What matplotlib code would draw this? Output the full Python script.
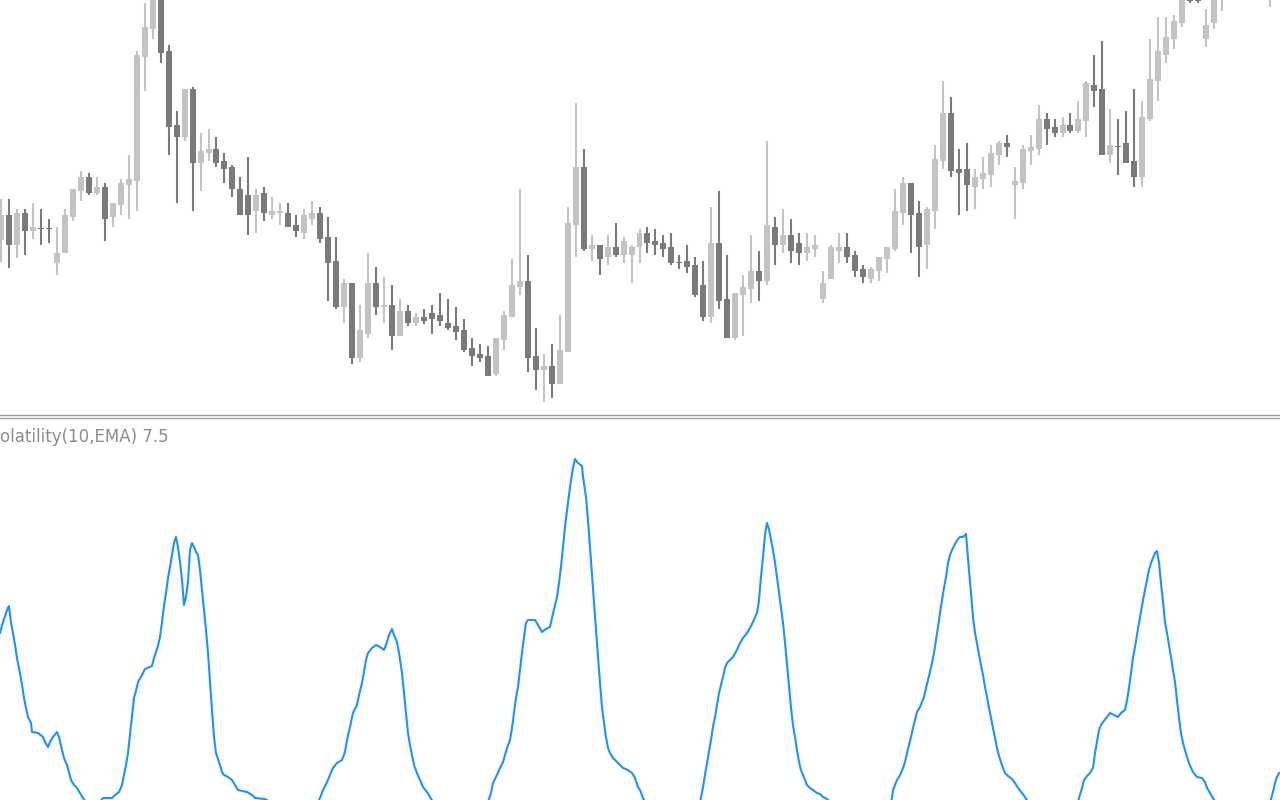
import matplotlib.pyplot as plt

# candle data (price units, index = bar number)
opens = [170, 195, 165, 197, 179, 182, 182, 147, 157, 193,
         219, 233, 217, 223, 193, 205, 225, 229, 353, 381,
         430, 359, 285, 273, 321, 247, 257, 261, 249, 243,
         221, 215, 199, 217, 195, 197, 197, 185, 177, 191,
         197, 173, 149, 103, 127, 52, 76, 127, 103, 105,
         74, 99, 87, 93, 97, 95, 87, 84, 80, 62,
         56, 54, 36, 70, 93, 123, 129, 54, 40, 44,
         26, 58, 185, 243, 161, 165, 153, 163, 155, 155,
         163, 177, 169, 167, 163, 148, 149, 145, 125, 93,
         167, 111, 72, 115, 121, 139, 129, 183, 165, 175,
         167, 157, 161, 111, 131, 159, 163, 155, 141, 131,
         139, 151, 161, 197, 227, 197, 165, 199, 249, 297,
         241, 241, 223, 231, 235, 255, 267, 225, 227, 259,
         261, 291, 283, 277, 285, 279, 289, 325, 321, 255,
         264, 267, 249, 233, 291, 329, 355, 371, 387, 430,
         410, 371, 387, 415, 440, 455, 470, 460, 475, 415]

closes = [195, 165, 197, 179, 183, 181, 181, 157, 195, 221,
          233, 217, 223, 191, 207, 227, 231, 355, 383, 425,
          357, 283, 273, 321, 247, 259, 261, 247, 241, 221,
          195, 195, 215, 197, 199, 199, 183, 179, 195, 197,
          171, 147, 103, 127, 52, 80, 127, 103, 105, 74,
          99, 87, 93, 89, 91, 89, 82, 78, 60, 54,
          52, 34, 72, 95, 125, 129, 52, 40, 44, 26,
          60, 187, 243, 161, 165, 151, 163, 155, 169, 163,
          177, 167, 165, 161, 147, 147, 143, 115, 93, 167,
          109, 72, 117, 123, 139, 129, 185, 165, 175, 159,
          157, 163, 165, 127, 163, 163, 153, 139, 133, 141,
          153, 163, 199, 227, 195, 163, 201, 251, 297, 239,
          237, 225, 233, 237, 257, 267, 263, 229, 261, 263,
          291, 281, 277, 285, 279, 291, 327, 319, 255, 265,
          263, 247, 233, 293, 331, 359, 373, 389, 420, 409,
          409, 385, 420, 440, 455, 470, 460, 475, 490, 430]

highs = [211, 211, 201, 201, 207, 201, 191, 183, 201, 221,
         239, 237, 233, 227, 207, 231, 255, 359, 407, 440,
         445, 365, 299, 321, 323, 277, 281, 273, 257, 245,
         233, 253, 221, 223, 213, 207, 207, 195, 201, 209,
         203, 193, 173, 131, 127, 105, 157, 143, 133, 125,
         111, 105, 97, 101, 105, 117, 111, 103, 91, 72,
         66, 64, 72, 99, 151, 221, 155, 82, 56, 66,
         95, 203, 307, 261, 175, 165, 175, 187, 173, 165,
         181, 183, 181, 175, 177, 155, 165, 153, 149, 203,
         219, 155, 117, 135, 175, 159, 269, 193, 201, 191,
         177, 177, 175, 139, 165, 177, 177, 159, 145, 143,
         153, 163, 221, 233, 227, 209, 203, 265, 329, 313,
         261, 267, 241, 253, 265, 269, 275, 243, 265, 275,
         305, 297, 291, 293, 297, 309, 329, 355, 369, 301,
         291, 299, 321, 309, 371, 393, 393, 395, 430, 440,
         418, 401, 430, 450, 465, 480, 485, 490, 500, 440]

lows = [148, 142, 152, 155, 171, 165, 167, 135, 157, 189,
        209, 215, 215, 169, 183, 195, 191, 199, 319, 371,
        347, 255, 207, 269, 199, 219, 249, 243, 227, 213,
        195, 175, 177, 189, 191, 185, 183, 173, 171, 185,
        167, 109, 101, 87, 46, 48, 72, 95, 87, 60,
        74, 84, 84, 86, 76, 84, 80, 70, 58, 44,
        48, 34, 34, 60, 93, 115, 38, 20, 8, 12,
        26, 58, 153, 159, 149, 135, 145, 153, 147, 127,
        147, 157, 155, 153, 145, 141, 137, 113, 89, 87,
        101, 72, 70, 74, 107, 109, 125, 145, 157, 147,
        145, 149, 153, 107, 131, 147, 147, 133, 127, 127,
        129, 137, 159, 185, 157, 133, 141, 181, 241, 233,
        195, 199, 201, 221, 223, 245, 253, 191, 221, 245,
        255, 265, 273, 273, 277, 277, 273, 303, 255, 247,
        235, 247, 223, 223, 289, 309, 347, 361, 383, 407,
        407, 363, 381, 399, 425, 440, 450, 445, 460, 403]

# volatility indicator (time in bars, value)
vol_t = [0.0, 0.38, 0.88, 1.12, 1.38, 1.62, 1.88, 2.12, 2.5, 2.75,
         3.0, 3.25, 3.5, 3.88, 4.0, 4.75, 5.38, 5.62, 6.0, 6.25,
         6.62, 7.12, 7.38, 7.75, 8.0, 8.38, 8.62, 8.88, 9.25, 9.62,
         10.0, 10.38, 10.75, 11.62, 12.5, 12.88, 14.0, 14.38, 14.88, 15.25,
         15.5, 15.75, 16.0, 16.25, 16.5, 16.75, 17.12, 17.25, 17.75, 18.12,
         19.0, 19.25, 19.5, 19.75, 20.0, 20.25, 20.5, 20.75, 21.0, 21.25,
         21.5, 21.75, 22.0, 22.25, 22.5, 22.75, 23.0, 23.25, 23.5, 23.75,
         24.0, 24.25, 24.5, 24.75, 25.0, 25.25, 25.5, 25.75, 26.0, 26.25,
         26.5, 26.75, 27.0, 27.25, 27.5, 27.75, 28.0, 28.5, 29.0, 29.38,
         29.75, 30.88, 31.5, 31.88, 33.12, 33.75, 36.88, 39.75, 40.0, 40.38,
         40.88, 41.25, 41.62, 42.12, 42.75, 43.12, 43.38, 43.75, 44.12, 44.62,
         44.88, 45.25, 45.5, 45.75, 46.0, 46.5, 47.0, 47.5, 48.0, 48.38,
         48.62, 49.0, 49.25, 49.62, 49.88, 50.25, 50.5, 50.75, 51.0, 51.25,
         51.5, 51.75, 52.12, 52.5, 52.88, 53.38, 53.75, 54.12, 57.5, 61.0,
         61.38, 61.62, 62.12, 62.5, 62.88, 63.12, 63.38, 63.75, 64.0, 64.25,
         64.5, 64.75, 65.0, 65.25, 65.5, 65.75, 66.0, 66.88, 67.25, 67.75,
         68.25, 68.75, 69.0, 69.38, 69.62, 69.88, 70.12, 70.38, 70.62, 70.88,
         71.12, 71.38, 71.62, 71.88, 72.25, 72.75, 72.88, 73.25, 73.5, 73.75,
         74.0, 74.25, 74.5, 74.75, 75.0, 75.25, 75.5, 75.75, 76.0, 76.25,
         76.62, 77.12, 77.5, 77.88, 78.5, 79.0, 79.38, 79.75, 80.0, 80.38,
         80.62, 84.0, 87.5, 87.62, 87.88, 88.12, 88.38, 88.62, 88.88, 89.12,
         89.38, 89.62, 89.88, 90.12, 90.38, 90.62, 90.88, 91.25, 91.62, 92.12,
         92.5, 92.88, 93.38, 93.75, 94.12, 94.62, 94.88, 95.12, 95.38, 95.62,
         95.88, 96.12, 96.38, 96.62, 96.88, 97.12, 97.38, 97.62, 97.88, 98.12,
         98.38, 98.62, 98.88, 99.12, 99.38, 99.62, 99.88, 100.12, 100.38, 100.62,
         100.88, 101.25, 101.62, 102.12, 102.5, 102.88, 103.38, 103.75, 107.5, 111.38,
         111.5, 111.62, 111.88, 112.12, 112.38, 112.62, 112.88, 113.12, 113.38, 113.62,
         113.88, 114.12, 114.38, 114.62, 115.0, 115.25, 115.5, 115.75, 116.0, 116.25,
         116.5, 116.75, 117.0, 117.25, 117.5, 117.75, 118.0, 118.25, 118.5, 118.75,
         119.0, 119.25, 119.5, 119.75, 120.0, 120.38, 120.75, 120.88, 121.12, 121.38,
         121.62, 121.88, 122.12, 122.38, 122.62, 122.88, 123.12, 123.38, 123.62, 123.88,
         124.12, 124.38, 124.62, 124.88, 125.12, 125.38, 125.62, 126.0, 126.5, 126.88,
         127.25, 127.75, 128.12, 128.5, 131.62, 134.75, 134.88, 135.25, 135.5, 135.88,
         136.25, 136.62, 136.88, 137.12, 137.38, 137.62, 137.88, 138.38, 138.75, 139.25,
         139.75, 140.12, 140.62, 140.88, 141.12, 141.38, 141.62, 141.88, 142.12, 142.38,
         142.62, 142.88, 143.12, 143.38, 143.62, 143.88, 144.12, 144.38, 144.62, 144.88,
         145.12, 145.38, 145.62, 145.88, 146.12, 146.38, 146.62, 146.88, 147.12, 147.38,
         147.62, 147.88, 148.12, 148.38, 148.62, 148.88, 149.12, 149.62, 150.25, 150.62,
         150.88, 151.25, 151.62, 151.88, 155.25, 158.75, 158.88, 159.12, 159.38, 159.62,
         159.88]

vol_v = [177, 188, 200, 204, 187, 177, 165, 152, 137, 125,
         112, 102, 93, 87, 78, 77, 73, 68, 63, 68,
         73, 78, 73, 60, 52, 45, 38, 30, 25, 22,
         17, 12, 8, 4, 8, 12, 12, 15, 18, 25,
         35, 45, 57, 75, 93, 112, 123, 128, 135, 141,
         144, 152, 158, 164, 173, 188, 204, 217, 232, 243,
         255, 267, 273, 263, 248, 230, 205, 213, 228, 260,
         267, 263, 258, 255, 240, 220, 200, 180, 157, 128,
         100, 73, 57, 51, 45, 38, 35, 33, 30, 25,
         20, 18, 15, 12, 11, 8, 2, 8, 12, 20,
         28, 35, 42, 47, 50, 58, 70, 83, 97, 105,
         115, 127, 138, 150, 157, 162, 165, 163, 160, 168,
         175, 181, 175, 168, 157, 137, 117, 97, 77, 65,
         55, 45, 37, 30, 23, 18, 13, 8, 0, 8,
         17, 27, 35, 42, 48, 55, 62, 70, 82, 97,
         112, 123, 140, 157, 173, 187, 190, 190, 185, 178,
         181, 183, 192, 205, 213, 227, 243, 263, 283, 300,
         315, 330, 342, 351, 347, 344, 333, 313, 290, 263,
         237, 208, 180, 153, 127, 103, 87, 73, 62, 57,
         52, 48, 45, 42, 40, 37, 32, 23, 20, 12,
         8, 0, 8, 12, 23, 35, 47, 58, 70, 83,
         93, 105, 117, 125, 133, 142, 147, 150, 153, 160,
         167, 172, 177, 182, 188, 197, 210, 233, 253, 275,
         287, 281, 270, 260, 247, 233, 217, 202, 187, 168,
         145, 123, 102, 85, 73, 60, 48, 40, 35, 30,
         25, 22, 20, 17, 16, 13, 11, 8, 0, 8,
         12, 20, 25, 30, 33, 37, 42, 48, 57, 65,
         73, 82, 90, 98, 103, 108, 113, 122, 130, 138,
         147, 157, 170, 183, 197, 210, 222, 233, 247, 255,
         260, 264, 268, 271, 273, 273, 276, 263, 240, 217,
         193, 177, 167, 155, 145, 135, 123, 113, 102, 92,
         82, 72, 62, 54, 48, 42, 37, 34, 31, 27,
         22, 17, 13, 8, 0, 8, 12, 22, 30, 34,
         37, 42, 57, 68, 80, 85, 88, 93, 97, 95,
         93, 97, 100, 110, 122, 137, 152, 163, 175, 187,
         198, 210, 220, 230, 240, 247, 252, 257, 259, 247,
         227, 208, 188, 177, 165, 153, 140, 128, 110, 92,
         77, 67, 60, 53, 47, 42, 38, 33, 32, 28,
         22, 17, 12, 8, 0, 8, 11, 18, 27, 33,
         37]

up_color = "#c3c3c3"
down_color = "#7a7a7a"
sep_color = "#a0a0a0"

fig = plt.figure(figsize=(12.8, 8), dpi=100)
ax = fig.add_axes([0, 385 / 800, 1, 415 / 800])
ax2 = fig.add_axes([0, 0, 1, 382 / 800])

idx = list(range(len(opens)))
colors = [up_color if c >= o else down_color for o, c in zip(opens, closes)]
bottoms = [min(o, c) for o, c in zip(opens, closes)]
heights = [max(abs(c - o), 1.5) for o, c in zip(opens, closes)]

ax.vlines(idx, lows, highs, colors=colors, linewidth=1.5)
ax.bar(idx, heights, bottom=bottoms, width=0.75, color=colors, linewidth=0)
ax.set_xlim(-0.125, 160.25)
ax.set_ylim(-5, 410)

ax2.plot(vol_t, vol_v, color="#1e90ff", linewidth=1.5)
ax2.set_xlim(0, 160)
ax2.set_ylim(10, 392)

for a in (ax, ax2):
    a.set_xticks([])
    a.set_yticks([])
    for s in a.spines.values():
        s.set_visible(False)
ax.spines["bottom"].set_visible(True)
ax.spines["bottom"].set_color(sep_color)
ax.spines["bottom"].set_linewidth(1.0)
ax2.spines["top"].set_visible(True)
ax2.spines["top"].set_color(sep_color)
ax2.spines["top"].set_linewidth(1.0)

fig.text(0.0, (800 - 437) / 800, "olatility(10,EMA) 7.5", va="center", ha="left",
         color="#8c8c8c", fontsize=12)

fig.savefig("out.png", dpi=100)
